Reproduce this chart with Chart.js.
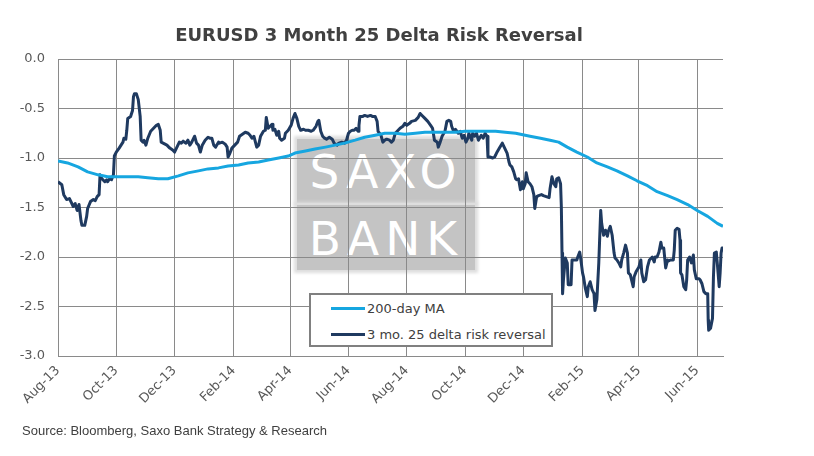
<!DOCTYPE html>
<html>
<head>
<meta charset="utf-8">
<script src="https://cdn.jsdelivr.net/npm/chart.js@4.4.1/dist/chart.umd.min.js"></script>
<style>
  html, body { margin:0; padding:0; background:#fff; }
  #wrap { position:relative; width:814px; height:456px; overflow:hidden; background:#fff; }
  #c { position:absolute; left:0; top:0; }
  .wm { position:absolute; background:#c4c4c4; box-shadow:0 0 3px 3px #dedede; color:#fff;
        font-family:"DejaVu Sans", Verdana, sans-serif; font-size:47px; letter-spacing:6px;
        text-align:center; }
  #title { position:absolute; left:0; width:758px; top:24px; text-align:center;
           font-family:"DejaVu Sans", Verdana, sans-serif; font-weight:bold; font-size:18px; color:#404040; }
  #legend { position:absolute; left:309px; top:293px; width:240px; height:50px; background:#fff;
            border:2px solid #808080; font-family:"DejaVu Sans", Verdana, sans-serif; font-size:13px; color:#404040; }
  .li { position:absolute; left:20px; height:16px; line-height:16px; white-space:nowrap; }
  .sw { display:inline-block; width:34px; height:3px; vertical-align:middle; margin-right:2px; position:relative; top:-1px; }
  #source { position:absolute; left:22px; top:423px; font-family:"Liberation Sans", Arial, sans-serif; font-size:13px; color:#404040; }
</style>
</head>
<body>
<div id="wrap">
  <div class="wm" style="left:297px;top:139px;width:178px;height:64px;line-height:66px;">SAXO</div>
  <div class="wm" style="left:297px;top:205px;width:178px;height:65px;line-height:68px;">BANK</div>
  <canvas id="c" width="814" height="456"></canvas>
  <div id="title">EURUSD 3 Month 25 Delta Risk Reversal</div>
  <div id="legend"></div>
  <div id="source">Source: Bloomberg, Saxo Bank Strategy &amp; Research</div>
</div>
<script>
// ---- data (x = days since 1 Aug 2013) ----
const tickLabels = ['Aug-13','Oct-13','Dec-13','Feb-14','Apr-14','Jun-14','Aug-14','Oct-14','Dec-14','Feb-15','Apr-15','Jun-15'];
const seriesNames = ['200-day MA', '3 mo. 25 delta risk reversal'];

const maDay = [0,10,21,31,42,52,63,73,84,94,105,115,126,136,147,157,168,178,189,199,210,220,231,241,248,259,269,280,290,300,311,321,332,342,353,363,374,384,395,405,416,426,437,447,458,468,479,494,505,515,524,533,543,554,564,575,585,596,606,617,627,638,648,659,669,680,690,696];
const maValue = [-1.03,-1.05,-1.09,-1.14,-1.17,-1.19,-1.19,-1.19,-1.19,-1.20,-1.21,-1.21,-1.18,-1.15,-1.13,-1.11,-1.10,-1.08,-1.07,-1.05,-1.04,-1.02,-1.00,-0.98,-0.95,-0.93,-0.91,-0.89,-0.87,-0.85,-0.82,-0.79,-0.77,-0.75,-0.75,-0.76,-0.75,-0.74,-0.74,-0.74,-0.74,-0.73,-0.73,-0.73,-0.73,-0.74,-0.75,-0.78,-0.80,-0.82,-0.84,-0.89,-0.94,-0.99,-1.05,-1.09,-1.13,-1.18,-1.23,-1.28,-1.34,-1.38,-1.42,-1.47,-1.53,-1.59,-1.66,-1.69];

const rrDay = [0,4,6,9,12,16,18,20,22,24,25,28,30,31,34,37,39,41,43,44,46,49,51,52,54,56,58,59,61,64,66,68,69,71,72,73,76,78,79,80,82,84,86,87,89,90,92,94,97,100,103,105,107,108,110,114,117,120,122,124,127,129,131,134,136,138,140,143,145,147,149,151,154,157,159,161,163,165,168,169,172,175,177,178,180,182,185,188,190,193,196,199,201,203,205,208,210,212,215,217,218,220,222,224,225,227,229,231,232,234,237,238,241,244,246,248,250,252,254,257,259,262,265,267,270,272,273,275,277,279,281,284,287,289,292,294,297,300,302,304,306,308,310,312,314,315,316,319,321,324,327,329,332,334,335,338,340,342,344,347,349,351,353,356,358,361,363,365,368,370,374,377,379,381,384,387,390,392,394,397,398,400,402,405,407,409,411,412,414,416,419,421,423,425,427,429,430,433,434,436,438,440,443,445,447,449,450,452,455,457,459,462,465,467,470,472,473,475,477,479,480,482,484,486,487,489,490,492,494,496,498,499,501,503,506,508,511,514,515,517,519,521,522,524,526,526.8,527.5,528.1,529,531,533,534,537,538,540,543,544,546,547,549,550,552,554,555,557,559,561,562,564,566,568,569,571,573,575,576,578,580,582,583,585,587,589,590,592,594,596,597,599,602,603,605,608,610,611,613,615,617,619,622,624,625,627,629,631,632,634,636,638,639,641,644,645,646,648,650,651,651.6,653,655,657,658,659,661,663,665,666,668,671,672,674,676,678,680,680.5,681,683,685,686,687,689,690,692,693,694,695,696];
const rrValue = [-1.24,-1.27,-1.37,-1.42,-1.41,-1.49,-1.46,-1.53,-1.47,-1.63,-1.68,-1.68,-1.59,-1.51,-1.44,-1.42,-1.43,-1.39,-1.37,-1.17,-1.21,-1.24,-1.22,-1.24,-1.21,-1.22,-1.17,-0.98,-0.94,-0.90,-0.87,-0.84,-0.80,-0.81,-0.72,-0.60,-0.58,-0.52,-0.38,-0.35,-0.35,-0.41,-0.58,-0.82,-0.84,-0.82,-0.87,-0.80,-0.73,-0.70,-0.67,-0.66,-0.72,-0.84,-0.85,-0.87,-0.90,-0.92,-0.94,-0.90,-0.84,-0.85,-0.83,-0.85,-0.82,-0.87,-0.84,-0.78,-0.85,-0.87,-0.94,-0.87,-0.82,-0.79,-0.80,-0.80,-0.87,-0.89,-0.84,-0.85,-0.84,-0.86,-0.89,-0.99,-0.95,-0.90,-0.87,-0.84,-0.78,-0.76,-0.74,-0.75,-0.77,-0.80,-0.78,-0.89,-0.87,-0.78,-0.73,-0.72,-0.59,-0.70,-0.68,-0.66,-0.72,-0.71,-0.77,-0.73,-0.80,-0.82,-0.80,-0.75,-0.72,-0.67,-0.60,-0.55,-0.60,-0.68,-0.72,-0.71,-0.72,-0.72,-0.73,-0.72,-0.68,-0.63,-0.62,-0.73,-0.78,-0.80,-0.81,-0.79,-0.81,-0.85,-0.87,-0.85,-0.84,-0.85,-0.82,-0.75,-0.73,-0.72,-0.72,-0.70,-0.73,-0.67,-0.58,-0.58,-0.57,-0.58,-0.57,-0.58,-0.58,-0.63,-0.73,-0.77,-0.84,-0.82,-0.81,-0.82,-0.84,-0.82,-0.75,-0.72,-0.70,-0.68,-0.65,-0.67,-0.65,-0.63,-0.62,-0.59,-0.55,-0.57,-0.60,-0.63,-0.67,-0.70,-0.82,-0.84,-0.89,-0.84,-0.78,-0.73,-0.63,-0.62,-0.63,-0.68,-0.73,-0.71,-0.75,-0.73,-0.80,-0.77,-0.84,-0.80,-0.75,-0.82,-0.75,-0.78,-0.75,-0.82,-0.77,-0.80,-0.75,-0.78,-0.99,-0.99,-1.00,-0.99,-0.95,-0.90,-0.85,-0.89,-0.95,-1.04,-1.07,-1.09,-1.14,-1.21,-1.22,-1.21,-1.32,-1.24,-1.31,-1.26,-1.15,-1.24,-1.26,-1.29,-1.37,-1.51,-1.39,-1.38,-1.37,-1.38,-1.39,-1.40,-1.31,-1.19,-1.26,-1.29,-1.21,-1.20,-1.26,-1.49,-1.96,-2.37,-2.23,-2.01,-2.06,-2.28,-2.28,-2.03,-2.03,-2.03,-2.00,-1.95,-2.01,-2.16,-2.20,-2.32,-2.40,-2.30,-2.25,-2.33,-2.37,-2.54,-2.43,-2.06,-1.53,-1.66,-1.78,-1.73,-1.79,-1.74,-1.69,-1.78,-1.96,-2.01,-2.03,-2.06,-2.10,-2.03,-1.96,-1.88,-1.96,-2.16,-2.18,-2.30,-2.20,-2.15,-2.10,-2.03,-2.16,-2.25,-2.23,-2.10,-2.03,-2.00,-2.05,-2.00,-2.00,-1.95,-1.85,-1.91,-1.91,-2.11,-2.03,-2.04,-2.03,-2.03,-1.93,-1.73,-1.71,-1.72,-1.83,-2.16,-2.18,-2.30,-2.33,-2.23,-2.03,-2.00,-2.06,-1.98,-2.13,-2.22,-2.22,-2.23,-2.27,-2.35,-2.37,-2.37,-2.64,-2.74,-2.72,-2.62,-2.20,-1.96,-1.95,-2.06,-2.30,-2.16,-1.96,-1.91,-1.91];

// ---- helpers ----
const MON = {Jan:0,Feb:1,Mar:2,Apr:3,May:4,Jun:5,Jul:6,Aug:7,Sep:8,Oct:9,Nov:10,Dec:11};
const origin = Date.UTC(2013, 7, 1);
const tickDays = tickLabels.map(l => {
  const [m, y] = l.split('-');
  return Math.round((Date.UTC(2000 + (+y), MON[m], 1) - origin) / 86400000);
});
const colors = ['#16a6e0', '#1f3a60'];

// legend (HTML)
const leg = document.getElementById('legend');
seriesNames.forEach((n, i) => {
  const d = document.createElement('div');
  d.className = 'li';
  d.style.top = (i === 0 ? 6 : 32) + 'px';
  d.innerHTML = '<span class="sw" style="background:' + colors[i] + '"></span>' + n;
  leg.appendChild(d);
});

const gridCol = '#8a8a8a';
new Chart(document.getElementById('c'), {
  type: 'line',
  data: {
    datasets: [
      { label: seriesNames[0], data: maDay.map((d, i) => ({x: d, y: maValue[i]})),
        borderColor: colors[0], borderWidth: 3, pointRadius: 0, tension: 0, borderJoinStyle: 'round' },
      { label: seriesNames[1], data: rrDay.map((d, i) => ({x: d, y: rrValue[i]})),
        borderColor: colors[1], borderWidth: 3, pointRadius: 0, tension: 0, borderJoinStyle: 'round' }
    ]
  },
  options: {
    responsive: false, animation: false, devicePixelRatio: 1,
    layout: { padding: { top: 59, right: 91, left: 0, bottom: 0 } },
    plugins: { legend: { display: false }, title: { display: false }, tooltip: { enabled: false } },
    scales: {
      x: {
        type: 'linear', min: 0, max: 696,
        afterBuildTicks: axis => { axis.ticks = tickDays.map(v => ({ value: v })); },
        afterFit: s => { s.height = 100; },
        ticks: { callback: (v, i) => tickLabels[i], minRotation: 45, maxRotation: 45, autoSkip: false,
                 font: { family: 'DejaVu Sans', size: 13 }, color: '#595959', padding: 7 },
        grid: { color: gridCol, drawTicks: false, lineWidth: 1 },
        border: { color: gridCol }
      },
      y: {
        min: -3, max: 0,
        afterFit: s => { s.width = 58; },
        ticks: { stepSize: 0.5, callback: v => Number(v).toFixed(1), font: { family: 'DejaVu Sans', size: 13 },
                 color: '#595959', padding: 13 },
        grid: { color: gridCol, drawTicks: false, lineWidth: 1 },
        border: { color: gridCol }
      }
    }
  }
});
</script>
</body>
</html>
